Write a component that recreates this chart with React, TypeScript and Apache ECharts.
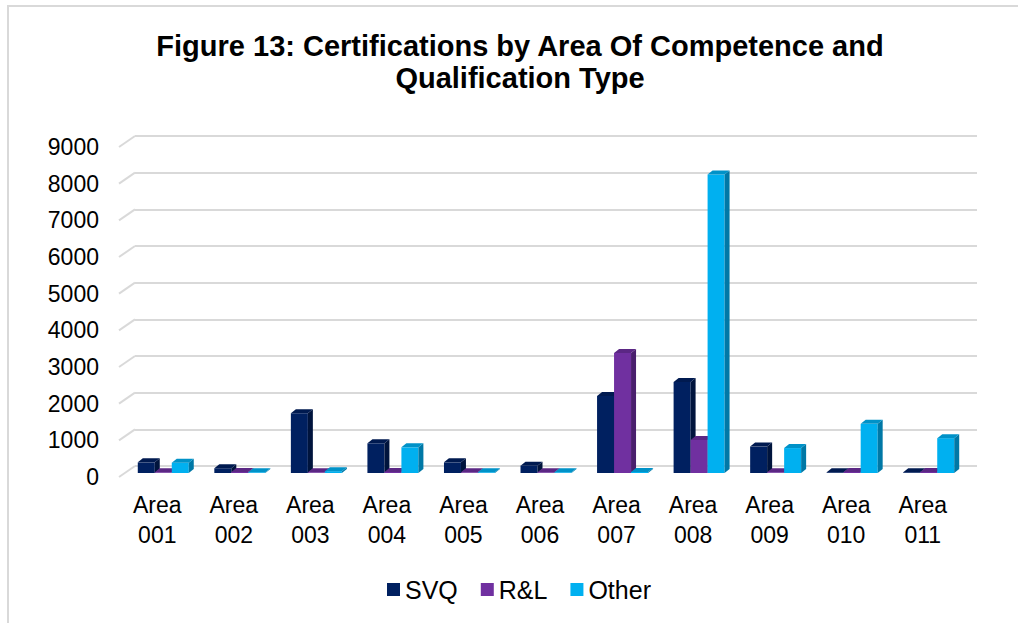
import React, { useEffect, useRef } from "react";
import * as echarts from "echarts";

const categories = [
  "Area\n001", "Area\n002", "Area\n003", "Area\n004", "Area\n005", "Area\n006",
  "Area\n007", "Area\n008", "Area\n009", "Area\n010", "Area\n011",
];
const seriesNames = ["SVQ", "R&L", "Other"];
const svqValues = [290, 130, 1630, 810, 290, 200, 2100, 2480, 720, 20, 20];
const rlValues = [20, 30, 20, 30, 20, 20, 3270, 900, 20, 30, 30];
const otherValues = [280, 20, 50, 700, 20, 20, 30, 8140, 680, 1340, 950];
const yTicks = [0, 1000, 2000, 3000, 4000, 5000, 6000, 7000, 8000, 9000];

const FONT = "'Liberation Sans', Arial, sans-serif";

const palette = [
  { front: "#002060", side: "#00143d", top: "#001a50" },
  { front: "#7030a0", side: "#4a1f6d", top: "#5b2784" },
  { front: "#00b0f0", side: "#0078a6", top: "#0092c8" },
];

const DEPTH_X = 5;
const DEPTH_Y = -4;

function barRenderer(idx: number) {
  const col = palette[idx];
  return (_params: any, api: any) => {
    const c = api.value(0);
    const v = api.value(1);
    const base = api.coord([c, 0]);
    const top = api.coord([c, v]);
    const band = api.size([1, 0])[0];
    const bw = band * 0.222;
    const x0 = base[0] - 1.5 * bw + idx * bw;
    const x1 = x0 + bw;
    const yb = base[1];
    const yt = top[1];
    return {
      type: "group",
      children: [
        {
          type: "rect",
          shape: { x: x0, y: yt, width: bw, height: yb - yt },
          style: { fill: col.front },
        },
        {
          type: "polygon",
          shape: {
            points: [
              [x1, yb],
              [x1 + DEPTH_X, yb + DEPTH_Y],
              [x1 + DEPTH_X, yt + DEPTH_Y],
              [x1, yt],
            ],
          },
          style: { fill: col.side },
        },
        {
          type: "polygon",
          shape: {
            points: [
              [x0, yt],
              [x0 + DEPTH_X, yt + DEPTH_Y],
              [x1 + DEPTH_X, yt + DEPTH_Y],
              [x1, yt],
            ],
          },
          style: { fill: col.top },
        },
      ],
    };
  };
}

export default function App() {
  const ref = useRef<HTMLDivElement>(null);
  useEffect(() => {
    if (!ref.current) return;
    const chart = echarts.init(ref.current, undefined, { renderer: "svg" });
    const W = 1018;
    const H = 623;
    // back wall grid, front plane grid, bar plane grid
    const back = { left: 135, top: 136, width: 842, height: 330 };
    const front = { left: 119, top: 147, width: 842, height: 330 };
    const barPlane = { left: 125, top: 143, width: 842, height: 330 };
    const hiddenAxis = {
      axisLine: { show: false },
      axisTick: { show: false },
    };
    const valueAxis = (gridIndex: number, extra: any) => ({
      type: "value",
      gridIndex,
      min: 0,
      max: 9000,
      interval: 1000,
      ...hiddenAxis,
      ...extra,
    });
    const catAxis = (gridIndex: number, extra: any) => ({
      type: "category",
      gridIndex,
      data: categories,
      boundaryGap: true,
      ...hiddenAxis,
      ...extra,
    });
    const valueSeries = [svqValues, rlValues, otherValues];
    chart.setOption({
      animation: false,
      backgroundColor: "#ffffff",
      textStyle: { fontFamily: FONT },
      title: {
        text: "Figure 13: Certifications by Area Of Competence and\nQualification Type",
        left: 520,
        top: 30,
        textAlign: "center",
        padding: 0,
        textStyle: {
          fontFamily: FONT,
          fontSize: 29,
          fontWeight: "bold",
          lineHeight: 32,
          color: "#000000",
        },
      },
      legend: {
        data: seriesNames,
        left: 387,
        top: 577,
        padding: 0,
        icon: "rect",
        itemWidth: 13,
        itemHeight: 13,
        itemGap: 23,
        textStyle: { fontFamily: FONT, fontSize: 25, color: "#000000" },
      },
      grid: [
        { ...back, containLabel: false },
        { ...front, containLabel: false },
        { ...barPlane, containLabel: false },
      ],
      xAxis: [
        catAxis(0, { axisLabel: { show: false }, splitLine: { show: false } }),
        catAxis(1, {
          axisLabel: {
            show: true,
            interval: 0,
            margin: 13,
            fontFamily: FONT,
            fontSize: 23,
            lineHeight: 30,
            color: "#000000",
          },
          splitLine: { show: false },
        }),
        catAxis(2, { axisLabel: { show: false }, splitLine: { show: false } }),
      ],
      yAxis: [
        valueAxis(0, {
          axisLabel: { show: false },
          splitLine: { show: true, lineStyle: { color: "#d9d9d9", width: 2 } },
        }),
        valueAxis(1, {
          axisLabel: {
            show: true,
            margin: 20,
            fontFamily: FONT,
            fontSize: 23,
            color: "#000000",
            formatter: (v: number) => String(v),
          },
          splitLine: { show: false },
        }),
        valueAxis(2, { axisLabel: { show: false }, splitLine: { show: false } }),
      ],
      graphic: [
        {
          type: "polyline",
          shape: { points: [[8, H], [8, 6], [W, 6]] },
          style: { stroke: "#d9d9d9", lineWidth: 2, fill: "none" },
          silent: true,
        },
      ],
      series: [
        {
          type: "custom",
          name: "slants",
          xAxisIndex: 1,
          yAxisIndex: 1,
          silent: true,
          data: yTicks.map((v) => [0, v]),
          encode: { x: 0, y: 1 },
          renderItem: (_p: any, api: any) => {
            const p = api.coord([0, api.value(1)]);
            const band = api.size([1, 0])[0];
            const x0 = p[0] - band / 2;
            return {
              type: "line",
              shape: { x1: x0, y1: p[1], x2: x0 + 16, y2: p[1] - 11 },
              style: { stroke: "#d9d9d9", lineWidth: 2 },
            };
          },
        },
        ...seriesNames.map((name, idx) => ({
          type: "custom",
          name,
          xAxisIndex: 2,
          yAxisIndex: 2,
          itemStyle: { color: palette[idx].front },
          data: valueSeries[idx].map((v, i) => [i, v]),
          encode: { x: 0, y: 1 },
          renderItem: barRenderer(idx),
        })),
      ],
    });
    return () => chart.dispose();
  }, []);
  return (
    <div
      ref={ref}
      style={{ position: "fixed", left: 0, top: 0, width: 1018, height: 623 }}
    />
  );
}
